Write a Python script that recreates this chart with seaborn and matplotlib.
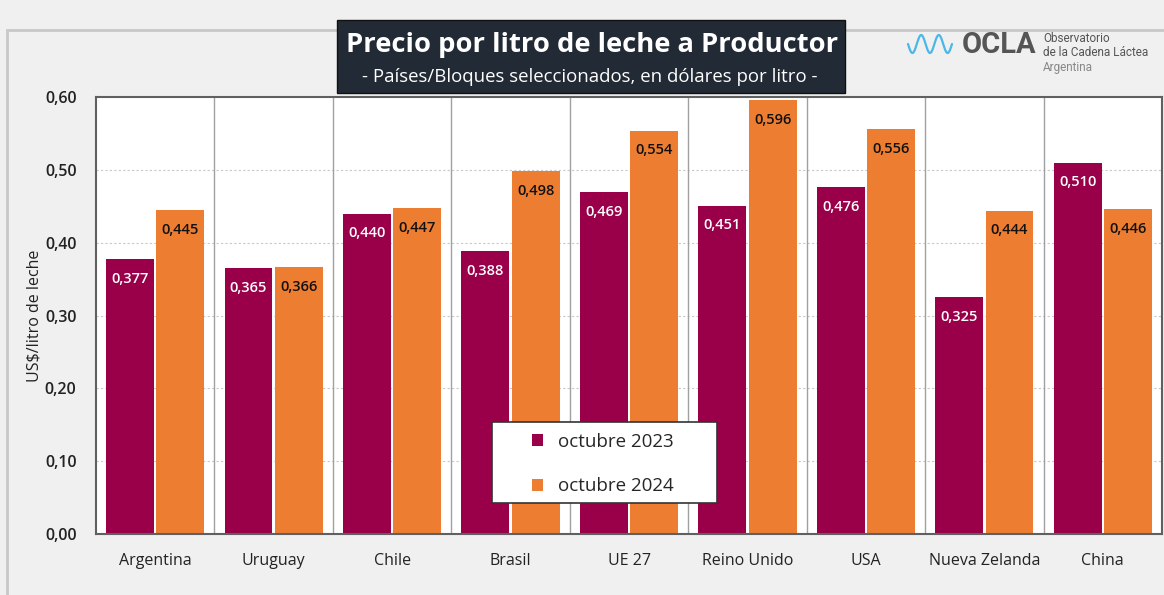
import pandas as pd
import numpy as np
import matplotlib
matplotlib.use("Agg")
import matplotlib.pyplot as plt
from matplotlib.patches import Rectangle
from matplotlib.ticker import FuncFormatter
import seaborn as sns

paises = ["Argentina", "Uruguay", "Chile", "Brasil", "UE 27",
          "Reino Unido", "USA", "Nueva Zelanda", "China"]
oct_2023 = [0.377, 0.365, 0.440, 0.388, 0.469, 0.451, 0.476, 0.325, 0.510]
oct_2024 = [0.445, 0.366, 0.447, 0.498, 0.554, 0.596, 0.556, 0.444, 0.446]
series = ["octubre 2023", "octubre 2024"]
colores = ["#990049", "#ED7D31"]

W, H = 1164, 595
AX_L, AX_B, AX_W, AX_H = 96, 61, 1066, 437


def px_to_ax(x, y):
    # pixel (from top-left) -> axes fraction
    return (x - AX_L) / AX_W, (H - y - AX_B) / AX_H


def main():
    df = pd.DataFrame({
        "pais": paises * 2,
        "periodo": [series[0]] * len(paises) + [series[1]] * len(paises),
        "precio": oct_2023 + oct_2024,
    })

    sns.set_style("white")
    plt.rcParams["font.family"] = ["Open Sans", "DejaVu Sans"]

    fig = plt.figure(figsize=(W / 100, H / 100), dpi=100, facecolor="#f0f0f0")
    # outer light frame
    fig.patches.append(Rectangle((7 / W, -0.05), 1.1, 1.0,
                                 transform=fig.transFigure, fill=False,
                                 edgecolor="#c8c8c8", linewidth=2, zorder=0))

    ax = fig.add_axes([AX_L / W, AX_B / H, AX_W / W, AX_H / H])
    ax.set_facecolor("white")

    sns.barplot(data=df, x="pais", y="precio", hue="periodo", palette=colores,
                width=0.85, gap=0.05, saturation=1, ax=ax, legend=True,
                edgecolor="none")

    ax.set_ylim(0, 0.6)
    ax.set_xlim(-0.5, len(paises) - 0.5)
    ax.set_yticks(np.arange(0, 0.61, 0.1))
    ax.yaxis.set_major_formatter(FuncFormatter(lambda v, p: f"{v:.2f}".replace(".", ",")))
    ax.tick_params(axis="y", labelsize=11.5, labelcolor="#222222", pad=14, length=0)
    ax.tick_params(axis="x", labelsize=11.5, labelcolor="#222222", pad=14, length=0)
    for t in ax.get_yticklabels():
        t.set_fontweight("semibold")
    ax.set_xlabel("")
    ax.set_ylabel("US$/litro de leche", fontsize=11.5, color="#222222", labelpad=2)

    for y in np.arange(0.1, 0.6, 0.1):
        ax.axhline(y, color="#c8c8c8", linestyle=(0, (2, 2)), linewidth=0.8, zorder=0)
    for i in range(1, len(paises)):
        ax.axvline(i - 0.5, color="#a0a0a0", linewidth=1, zorder=0)

    for sp in ax.spines.values():
        sp.set_color("#606060")
        sp.set_linewidth(1.5)

    # value labels
    for cont, col in zip(ax.containers, ["white", "#111111"]):
        for bar in cont:
            h = bar.get_height()
            ax.text(bar.get_x() + bar.get_width() / 2, h - 0.027,
                    f"{h:.3f}".replace(".", ","), ha="center", va="center",
                    fontsize=10.5, color=col, fontweight="semibold")

    # legend box + legend
    x0, y0 = px_to_ax(492, 503)
    x1, y1 = px_to_ax(717, 422)
    ax.add_patch(Rectangle((x0, y0), x1 - x0, y1 - y0, transform=ax.transAxes,
                           facecolor="white", edgecolor="#333333", linewidth=1.2,
                           zorder=4))
    handles, labels = ax.get_legend_handles_labels()
    leg = ax.legend(handles, labels, loc="upper left",
                    bbox_to_anchor=px_to_ax(532, 433),
                    fontsize=13.5, frameon=False,
                    handlelength=0.6, handleheight=0.6,
                    handletextpad=0.8, borderpad=0, labelspacing=1.4,
                    borderaxespad=0)
    leg.set_zorder(5)

    # title box
    fig.patches.append(Rectangle((337 / W, (H - 93) / H), (845 - 337) / W,
                                 73 / H, transform=fig.transFigure,
                                 facecolor="#222a35", edgecolor="#111111",
                                 linewidth=1, zorder=2))
    fig.text(592 / W, (H - 45) / H, "Precio por litro de leche a Productor",
             ha="center", va="center", color="white", fontsize=19.7,
             fontweight="bold", zorder=3)
    fig.text(590 / W, (H - 77) / H,
             "- Países/Bloques seleccionados, en dólares por litro -",
             ha="center", va="center", color="white", fontsize=13.4, zorder=3)

    # logo
    xs = np.linspace(908, 952, 300)
    ys = 44 + 9 * np.sin((xs - 908) / 44 * 5 * np.pi)
    fig.add_artist(plt.Line2D(xs / W, (H - ys) / H, transform=fig.transFigure,
                              color="#49b8e8", linewidth=1.6))
    fig.text(962 / W, (H - 45) / H, "OCLA", ha="left", va="center",
             color="#555555", fontsize=21, fontweight="bold", family="Roboto")
    fig.text(1043 / W, (H - 38) / H, "Observatorio", ha="left", va="center",
             color="#555555", fontsize=8.5, family="Roboto")
    fig.text(1043 / W, (H - 53) / H, "de la Cadena Láctea", ha="left", va="center",
             color="#555555", fontsize=8.5, family="Roboto")
    fig.text(1043 / W, (H - 68) / H, "Argentina", ha="left", va="center",
             color="#888888", fontsize=8.5, family="Roboto")

    fig.savefig("out.png", dpi=100, facecolor=fig.get_facecolor())
    plt.close(fig)


if __name__ == "__main__":
    main()
